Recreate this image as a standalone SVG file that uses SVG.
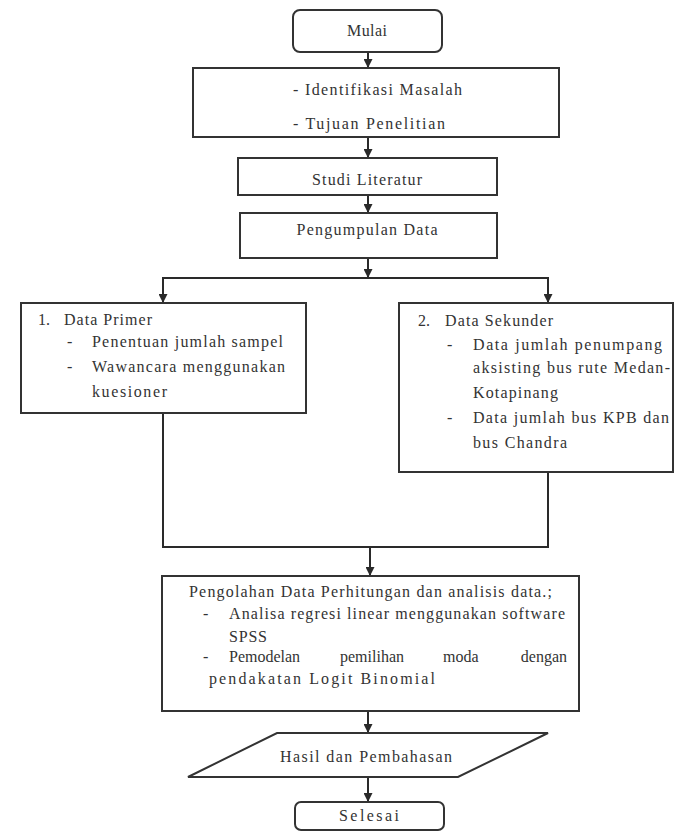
<svg xmlns="http://www.w3.org/2000/svg" width="675" height="833" viewBox="0 0 675 833">
<defs>
<marker id="ah" markerWidth="9" markerHeight="9" refX="8" refY="4.5" orient="auto" markerUnits="userSpaceOnUse">
<path d="M0,0 L9,4.5 L0,9 z" fill="#2a2a2a"/>
</marker>
<style>
.box{fill:#ffffff;stroke:#333333;stroke-width:2}
.t{font-family:"Liberation Serif","DejaVu Serif","Times New Roman",serif;font-size:16px;fill:#333333}
.c{text-anchor:middle}
.ln{fill:none;stroke:#2a2a2a;stroke-width:2}
</style>
</defs>
<rect width="675" height="833" fill="#ffffff"/>

<g id="connectors">
<path class="ln" d="M368,52 V67" marker-end="url(#ah)"/>
<path class="ln" d="M368,137 V157" marker-end="url(#ah)"/>
<path class="ln" d="M368,195 V212" marker-end="url(#ah)"/>
<path class="ln" d="M368,258 V277" marker-end="url(#ah)"/>
<path class="ln" d="M368,278 H163 V302" marker-end="url(#ah)"/>
<path class="ln" d="M368,278 H548 V302" marker-end="url(#ah)"/>
<path class="ln" d="M163,413 V547 H548 V472"/>
<path class="ln" d="M370,547 V575" marker-end="url(#ah)"/>
<path class="ln" d="M368,711 V732" marker-end="url(#ah)"/>
<path class="ln" d="M368,777 V801" marker-end="url(#ah)"/>
</g>

<g id="mulai">
<rect class="box" x="293" y="10" width="149" height="42" rx="7"/>
<text class="t c" x="367" y="36" textLength="40" lengthAdjust="spacing">Mulai</text>
</g>

<g id="identifikasi">
<rect class="box" x="193" y="68" width="366" height="69"/>
<text class="t" x="293" y="95" textLength="169" lengthAdjust="spacing">- Identifikasi Masalah</text>
<text class="t" x="293" y="129" textLength="152" lengthAdjust="spacing">- Tujuan Penelitian</text>
</g>

<g id="studi">
<rect class="box" x="238" y="158" width="259" height="37"/>
<text class="t c" x="367" y="185" textLength="110" lengthAdjust="spacing">Studi Literatur</text>
</g>

<g id="pengumpulan">
<rect class="box" x="240" y="213" width="257" height="45"/>
<text class="t c" x="367" y="235" textLength="141" lengthAdjust="spacing">Pengumpulan Data</text>
</g>

<g id="data-primer">
<rect class="box" x="21" y="303" width="285" height="110"/>
<text class="t" x="38" y="325">1.</text>
<text class="t" x="64" y="325" textLength="88" lengthAdjust="spacing">Data Primer</text>
<text class="t" x="67" y="347">-</text>
<text class="t" x="92" y="347" textLength="191" lengthAdjust="spacing">Penentuan jumlah sampel</text>
<text class="t" x="67" y="372">-</text>
<text class="t" x="92" y="372" textLength="193" lengthAdjust="spacing">Wawancara menggunakan</text>
<text class="t" x="92" y="397" textLength="75" lengthAdjust="spacing">kuesioner</text>
</g>

<g id="data-sekunder">
<rect class="box" x="399" y="303" width="274" height="169"/>
<text class="t" x="418" y="326">2.</text>
<text class="t" x="445" y="326" textLength="108" lengthAdjust="spacing">Data Sekunder</text>
<text class="t" x="447" y="350">-</text>
<text class="t" x="473" y="350" textLength="189" lengthAdjust="spacing">Data jumlah penumpang</text>
<text class="t" x="473" y="373" textLength="197" lengthAdjust="spacing">aksisting bus rute Medan-</text>
<text class="t" x="473" y="398" textLength="85" lengthAdjust="spacing">Kotapinang</text>
<text class="t" x="447" y="423">-</text>
<text class="t" x="473" y="423" textLength="196" lengthAdjust="spacing">Data jumlah bus KPB dan</text>
<text class="t" x="473" y="448" textLength="94" lengthAdjust="spacing">bus Chandra</text>
</g>

<g id="pengolahan">
<rect class="box" x="162" y="576" width="417" height="135"/>
<text class="t" x="189" y="597" textLength="363" lengthAdjust="spacing">Pengolahan Data Perhitungan dan analisis data.;</text>
<text class="t" x="203" y="619">-</text>
<text class="t" x="229" y="619" textLength="336" lengthAdjust="spacing">Analisa regresi linear menggunakan software</text>
<text class="t" x="229" y="642" textLength="38" lengthAdjust="spacing">SPSS</text>
<text class="t" x="203" y="662">-</text>
<text class="t" x="229" y="662">Pemodelan</text>
<text class="t" x="340" y="662">pemilihan</text>
<text class="t" x="443" y="662">moda</text>
<text class="t" x="567" y="662" text-anchor="end">dengan</text>
<text class="t" x="209" y="684" textLength="226" lengthAdjust="spacing">pendakatan Logit Binomial</text>
</g>

<g id="hasil">
<polygon class="box" points="277,733 548,733 458,777 188,777"/>
<text class="t c" x="366" y="762" textLength="172" lengthAdjust="spacing">Hasil dan Pembahasan</text>
</g>

<g id="selesai">
<rect class="box" x="295" y="802" width="149" height="28" rx="6"/>
<text class="t c" x="369" y="821" textLength="60" lengthAdjust="spacing">Selesai</text>
</g>
</svg>
